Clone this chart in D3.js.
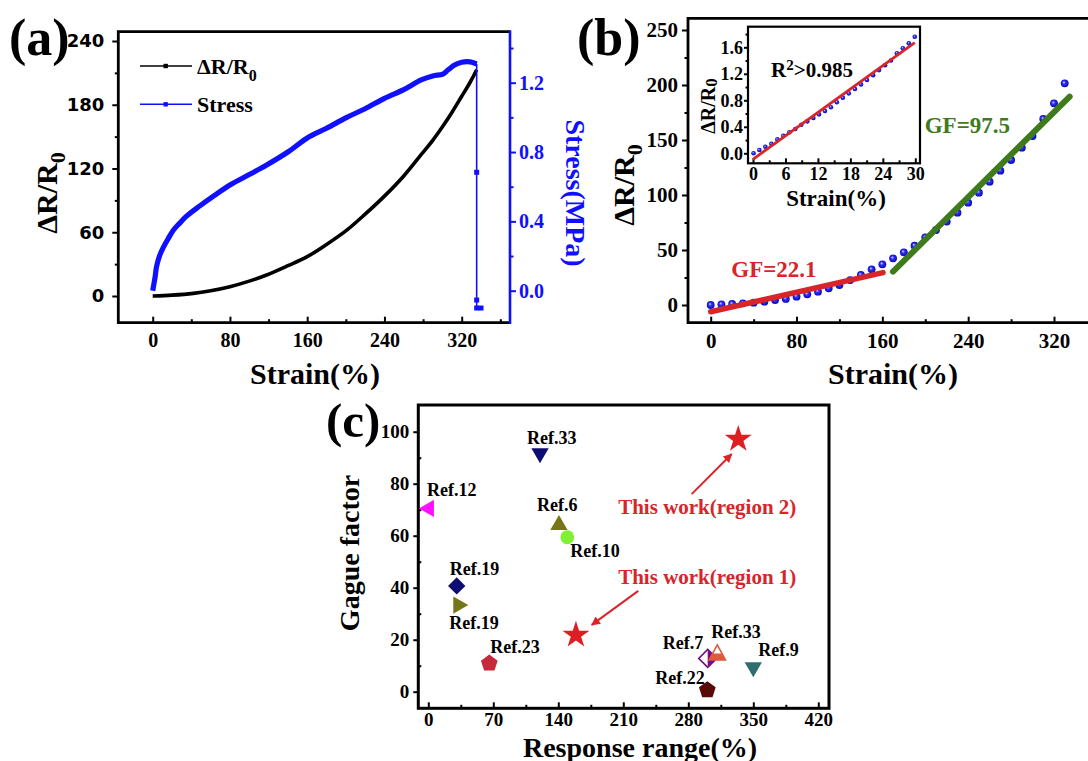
<!DOCTYPE html>
<html>
<head>
<meta charset="utf-8">
<script src="https://cdn.jsdelivr.net/npm/d3@7/dist/d3.min.js"></script>
<style>
body { margin: 0; background: #fff; }
</style>
</head>
<body>
<svg id="fig"></svg>
<script>
"use strict";

// ---- panel (a): resistance change and stress vs strain
var strainR = [0, 20, 42, 60, 80, 100, 118, 140, 160, 180, 201, 220, 240, 260, 278, 290, 300.6, 310, 320, 328, 335.5];
var resistR = [0, 0.8, 2.5, 5, 8.8, 14, 19.8, 28.5, 37, 48.5, 62, 77, 94, 113, 133, 146.5, 160, 173, 188, 200, 213];

var strainS = [0, 2.5, 4, 7, 11, 16, 21.5, 28, 35, 49, 64, 80, 100, 118, 140, 159.7, 180, 201, 220, 240, 260, 278, 290, 300.6, 305.7, 312.6, 320, 328.6, 335.5];
var stressS = [0, 0.08, 0.14, 0.2, 0.25, 0.3, 0.35, 0.39, 0.43, 0.49, 0.55, 0.61, 0.67, 0.725, 0.8, 0.88, 0.937, 1.0, 1.05, 1.11, 1.16, 1.216, 1.239, 1.25, 1.273, 1.302, 1.318, 1.32, 1.308];
// fracture: stress drops
var breakStrain = [335.5, 335.5, 335.5, 335.5, 340];
var breakStress = [1.308, 0.683, -0.054, -0.10, -0.10];

var ticksStrainA = [0, 80, 160, 240, 320];
var ticksResistA = [0, 60, 120, 180, 240];
var ticksStressA = [0, 0.4, 0.8, 1.2];

// ---- panel (b): sensing curve with two linear regions
var strainB = [0, 10, 20, 30, 40, 50, 60, 70, 80, 90, 100, 110, 120, 130, 140, 150, 160, 170, 180, 190, 200, 210, 220, 230, 240, 250, 260, 270, 280, 290, 300, 310, 320, 330];
var resistB = [0, 0.6, 0.9, 1.5, 2.1, 3.0, 4.5, 5.5, 7.6, 9.7, 12.1, 15.2, 18.2, 22.7, 27.3, 32.4, 37.0, 42.4, 47.9, 53.9, 61.5, 68.2, 75.8, 83.9, 93.0, 102.1, 112.1, 122.1, 131.8, 143.0, 153.6, 169.1, 183.3, 201.5];
var fit1 = [[0, -6.1], [160.6, 29.4]];
var fit2 = [[169.9, 30.3], [334.6, 189.4]];
var ticksStrainB = [0, 80, 160, 240, 320];
var ticksResistB = [0, 50, 100, 150, 200, 250];

// inset: low strain region
var strainI = [0.1, 1.17, 2.28, 3.39, 4.5, 5.61, 6.72, 7.82, 8.93, 10.04, 11.15, 12.2, 13.3, 14.4, 15.5, 16.6, 17.7, 18.85, 19.96, 21.07, 22.2, 23.3, 24.4, 25.5, 26.6, 27.7, 28.8, 29.9];
var resistI = [0.0, 0.05, 0.1, 0.145, 0.21, 0.265, 0.317, 0.367, 0.43, 0.482, 0.533, 0.588, 0.638, 0.694, 0.77, 0.84, 0.905, 0.97, 1.04, 1.106, 1.18, 1.256, 1.33, 1.40, 1.51, 1.585, 1.66, 1.76];
var fitI = [[0, -0.09], [29.9, 1.67]];
var ticksStrainI = [0, 6, 12, 18, 24, 30];
var ticksResistI = [0, 0.4, 0.8, 1.2, 1.6];

// ---- panel (c): comparison with other work
var refLabels = ['Ref.33', 'Ref.12', 'Ref.6', 'Ref.10', 'Ref.19', 'Ref.19', 'Ref.23', 'Ref.7', 'Ref.33', 'Ref.9', 'Ref.22'];
var refRange = [120.3, 0.7, 140.7, 149.7, 30.6, 32.3, 65.7, 300.9, 311.2, 350, 300.5];
var refGF = [91.7, 70.5, 64.1, 59.4, 40.7, 33.3, 10.9, 12.8, 14.7, 9.4, 0.65];
var workLabels = ['This work(region 1)', 'This work(region 2)'];
var workRange = [159, 333.8];
var workGF = [21.8, 97.1];
var ticksRangeC = [0, 70, 140, 210, 280, 350, 420];
var ticksGFC = [0, 20, 40, 60, 80, 100];

// ---- style
var SERIF = '"Liberation Serif", "Times New Roman", serif';
var SANS = '"DejaVu Sans", Verdana, sans-serif';
var BLUE = '#1010ff';
var RED = '#d8252a';
var GREEN = '#3f7a1c';

var svg = d3.select('#fig').attr('width', 1088).attr('height', 761);

var defs = svg.append('defs');
var grad = defs.append('radialGradient').attr('id', 'ball')
    .attr('cx', '50%').attr('cy', '50%').attr('r', '55%').attr('fx', '38%').attr('fy', '35%');
grad.append('stop').attr('offset', '0%').attr('stop-color', '#e4e6ff');
grad.append('stop').attr('offset', '35%').attr('stop-color', '#3434ff');
grad.append('stop').attr('offset', '100%').attr('stop-color', '#0000a8');
defs.append('marker').attr('id', 'arrow')
    .attr('viewBox', '0 0 10 10').attr('refX', 9).attr('refY', 5)
    .attr('markerWidth', 5).attr('markerHeight', 4.5).attr('orient', 'auto')
    .append('path').attr('d', 'M0,0L10,5L0,10z').attr('fill', RED);

function styleAxis(g, o) {
    g.select('.domain').remove();
    g.selectAll('line').attr('stroke', o.color || '#000').attr('stroke-width', o.tw || 2);
    g.selectAll('text')
        .attr('font-family', o.family || SERIF)
        .attr('font-size', o.size || 20)
        .attr('font-weight', 'bold')
        .attr('fill', o.color || '#000');
}

function label(g, x, y, rot, size, parts, color) {
    var t = g.append('text')
        .attr('transform', `translate(${x},${y}) rotate(${rot})`)
        .attr('text-anchor', 'middle')
        .attr('font-family', SERIF).attr('font-weight', 'bold')
        .attr('font-size', size).attr('fill', color || '#000');
    parts.forEach(p => {
        t.append('tspan').text(p.t)
            .attr('font-size', p.s || size)
            .attr('dy', p.dy || 0);
    });
    return t;
}

// =================== (a)
var fa = {l: 118.3, r: 510, t: 31.7, b: 322.7};
var xA = d3.scaleLinear().domain([0, 320]).range([152.7, 461.7]);
var yA = d3.scaleLinear().domain([0, 240]).range([296, 41]);
var yA2 = d3.scaleLinear().domain([0, 1.2]).range([290.7, 82.7]);

var ga = svg.append('g').attr('class', 'panel-a');

ga.append('g').attr('transform', `translate(0,${fa.b})`)
    .call(d3.axisBottom(xA).tickValues(ticksStrainA).tickSize(-6).tickPadding(10))
    .call(styleAxis, {size: 20});
ga.append('g').attr('transform', `translate(0,${fa.b})`)
    .call(d3.axisBottom(xA).tickValues([40, 120, 200, 280, 360]).tickSize(-3.5).tickFormat(''))
    .call(styleAxis, {});
ga.append('g').attr('transform', `translate(${fa.l},0)`)
    .call(d3.axisLeft(yA).tickValues(ticksResistA).tickSize(6).tickPadding(8))
    .call(styleAxis, {size: 18, family: SANS});
ga.append('g').attr('transform', `translate(${fa.l},0)`)
    .call(d3.axisLeft(yA).tickValues([30, 90, 150, 210]).tickSize(3.5).tickFormat(''))
    .call(styleAxis, {});
ga.append('g').attr('transform', `translate(${fa.r},0)`)
    .call(d3.axisRight(yA2).tickValues(ticksStressA).tickSize(6).tickPadding(3).tickFormat(d3.format('.1f')))
    .call(styleAxis, {size: 20, color: BLUE});
ga.append('g').attr('transform', `translate(${fa.r},0)`)
    .call(d3.axisRight(yA2).tickValues([0.2, 0.6, 1.0, 1.4]).tickSize(3.5).tickFormat(''))
    .call(styleAxis, {color: BLUE});

ga.append('path')
    .attr('d', `M${fa.r},${fa.t}H${fa.l}V${fa.b}H${fa.r}`)
    .attr('fill', 'none').attr('stroke', '#000').attr('stroke-width', 2.8);
ga.append('line')
    .attr('x1', fa.r).attr('x2', fa.r).attr('y1', fa.t - 1.4).attr('y2', fa.b + 1.4)
    .attr('stroke', BLUE).attr('stroke-width', 2.6);

var lineR = d3.line().x(d => xA(d[0])).y(d => yA(d[1])).curve(d3.curveCatmullRom.alpha(0.5));
ga.append('path')
    .attr('d', lineR(d3.zip(strainR, resistR)))
    .attr('fill', 'none').attr('stroke', '#000').attr('stroke-width', 3.6);

var lineS = d3.line().x(d => xA(d[0])).y(d => yA2(d[1])).curve(d3.curveCatmullRom.alpha(0.5));
ga.append('path')
    .attr('d', lineS(d3.zip(strainS, stressS)))
    .attr('fill', 'none').attr('stroke', BLUE).attr('stroke-width', 5.2).attr('stroke-linejoin', 'round');
var breakPts = d3.zip(breakStrain, breakStress);
ga.append('path')
    .attr('d', d3.line().x(d => xA(d[0])).y(d => yA2(d[1]))(breakPts))
    .attr('fill', 'none').attr('stroke', BLUE).attr('stroke-width', 1.6);
ga.append('g').selectAll('rect')
    .data(breakPts.slice(1))
    .enter().append('rect')
    .attr('x', d => xA(d[0]) - 2.5).attr('y', d => yA2(d[1]) - 2.5)
    .attr('width', 5).attr('height', 5).attr('fill', BLUE);

// legend
var legend = [
    {color: '#000', y: 66, parts: [{t: 'ΔR/R'}, {t: '0', s: 16, dy: 7}]},
    {color: BLUE, y: 104.3, parts: [{t: 'Stress'}]}
];
legend.forEach(l => {
    ga.append('line').attr('x1', 140).attr('x2', 192).attr('y1', l.y).attr('y2', l.y)
        .attr('stroke', l.color).attr('stroke-width', 1.6);
    ga.append('rect').attr('x', 163.5).attr('y', l.y - 2.2).attr('width', 4.4).attr('height', 4.4)
        .attr('fill', l.color);
    var t = ga.append('text').attr('x', 197).attr('y', l.y + 7.5)
        .attr('font-family', SERIF).attr('font-weight', 'bold').attr('font-size', 22);
    l.parts.forEach(p => t.append('tspan').text(p.t).attr('font-size', p.s || 22).attr('dy', p.dy || 0));
});

label(ga, 57, 193, -90, 30, [{t: 'ΔR/R'}, {t: '0', s: 22, dy: 8}]);
label(ga, 566, 193, 90, 28, [{t: 'Stress(MPa)'}], BLUE);
label(ga, 315, 384, 0, 30, [{t: 'Strain(%)'}]);
ga.append('text').attr('x', 9).attr('y', 55).text('(a)')
    .attr('font-family', SERIF).attr('font-weight', 'bold').attr('font-size', 52);

// =================== (b)
var fb = {l: 688, r: 1100, t: 18.3, b: 322.7};
var xB = d3.scaleLinear().domain([0, 320]).range([710.7, 1054]);
var yB = d3.scaleLinear().domain([0, 250]).range([305, 30]);

var gb = svg.append('g').attr('class', 'panel-b');
gb.append('g').attr('transform', `translate(0,${fb.b})`)
    .call(d3.axisBottom(xB).tickValues(ticksStrainB).tickSize(-6).tickPadding(10))
    .call(styleAxis, {size: 21});
gb.append('g').attr('transform', `translate(0,${fb.b})`)
    .call(d3.axisBottom(xB).tickValues([40, 120, 200, 280]).tickSize(-3.5).tickFormat(''))
    .call(styleAxis, {});
gb.append('g').attr('transform', `translate(${fb.l},0)`)
    .call(d3.axisLeft(yB).tickValues(ticksResistB).tickSize(6).tickPadding(4))
    .call(styleAxis, {size: 21});
gb.append('g').attr('transform', `translate(${fb.l},0)`)
    .call(d3.axisLeft(yB).tickValues([25, 75, 125, 175, 225]).tickSize(3.5).tickFormat(''))
    .call(styleAxis, {});
gb.append('path')
    .attr('d', `M${fb.r},${fb.t}H${fb.l}V${fb.b}H${fb.r}`)
    .attr('fill', 'none').attr('stroke', '#000').attr('stroke-width', 2.8);

gb.append('g').selectAll('circle')
    .data(d3.zip(strainB, resistB))
    .enter().append('circle')
    .attr('cx', d => xB(d[0])).attr('cy', d => yB(d[1])).attr('r', 3.9)
    .attr('fill', 'url(#ball)');

var lineB = d3.line().x(d => xB(d[0])).y(d => yB(d[1]));
gb.append('path').attr('d', lineB(fit1))
    .attr('stroke', RED).attr('stroke-width', 5.5).attr('stroke-linecap', 'round').attr('fill', 'none');
gb.append('path').attr('d', lineB(fit2))
    .attr('stroke', GREEN).attr('stroke-width', 6).attr('stroke-linecap', 'round').attr('fill', 'none');

gb.append('text').attr('x', xB(19.2)).attr('y', yB(25.2)).text('GF=22.1')
    .attr('font-family', SERIF).attr('font-weight', 'bold').attr('font-size', 23).attr('fill', RED);
gb.append('text').attr('x', xB(199.5)).attr('y', yB(156.1)).text('GF=97.5')
    .attr('font-family', SERIF).attr('font-weight', 'bold').attr('font-size', 23).attr('fill', GREEN);

label(gb, 634, 185, -90, 30, [{t: 'ΔR/R'}, {t: '0', s: 22, dy: 8}]);
label(gb, 893, 384, 0, 30, [{t: 'Strain(%)'}]);
gb.append('text').attr('x', 577).attr('y', 55).text('(b)')
    .attr('font-family', SERIF).attr('font-weight', 'bold').attr('font-size', 52);

// inset
var fi = {l: 748, r: 920, t: 26.7, b: 163.3};
var xI = d3.scaleLinear().domain([0, 30]).range([753, 915.3]);
var yI = d3.scaleLinear().domain([0, 1.6]).range([153.3, 47.3]);
var gi = gb.append('g').attr('class', 'inset');
gi.append('rect').attr('x', fi.l).attr('y', fi.t).attr('width', fi.r - fi.l).attr('height', fi.b - fi.t)
    .attr('fill', '#fff');
gi.append('g').attr('transform', `translate(0,${fi.b})`)
    .call(d3.axisBottom(xI).tickValues(ticksStrainI).tickSize(-5).tickPadding(4))
    .call(styleAxis, {size: 18});
gi.append('g').attr('transform', `translate(0,${fi.b})`)
    .call(d3.axisBottom(xI).tickValues([3, 9, 15, 21, 27]).tickSize(-3).tickFormat(''))
    .call(styleAxis, {});
gi.append('g').attr('transform', `translate(${fi.l},0)`)
    .call(d3.axisLeft(yI).tickValues(ticksResistI).tickSize(4).tickPadding(1).tickFormat(d3.format('.1f')))
    .call(styleAxis, {size: 18});
gi.append('g').attr('transform', `translate(${fi.l},0)`)
    .call(d3.axisLeft(yI).tickValues([0.2, 0.6, 1.0, 1.4, 1.8]).tickSize(2.5).tickFormat(''))
    .call(styleAxis, {});
gi.append('rect').attr('x', fi.l).attr('y', fi.t).attr('width', fi.r - fi.l).attr('height', fi.b - fi.t)
    .attr('fill', 'none').attr('stroke', '#000').attr('stroke-width', 2.2);

gi.append('g').selectAll('circle')
    .data(d3.zip(strainI, resistI))
    .enter().append('circle')
    .attr('cx', d => xI(d[0])).attr('cy', d => yI(d[1])).attr('r', 2.3)
    .attr('fill', 'url(#ball)');
gi.append('path')
    .attr('d', d3.line().x(d => xI(d[0])).y(d => yI(d[1]))(fitI))
    .attr('stroke', RED).attr('stroke-width', 2.8).attr('fill', 'none');

var r2 = gi.append('text').attr('x', 771).attr('y', 77)
    .attr('font-family', SERIF).attr('font-weight', 'bold').attr('font-size', 21);
r2.append('tspan').text('R');
r2.append('tspan').text('2').attr('font-size', 15).attr('dy', -7);
r2.append('tspan').text('>0.985').attr('dy', 7);

label(gi, 715, 106, -90, 20, [{t: 'ΔR/R'}, {t: '0', s: 17, dy: 2}]);
label(gi, 836, 206, 0, 23, [{t: 'Strain(%)'}]);

// =================== (c)
var fc = {l: 418.3, r: 829, t: 405, b: 708.3};
var xC = d3.scaleLinear().domain([0, 420]).range([428.3, 818.3]);
var yC = d3.scaleLinear().domain([0, 100]).range([691.7, 431.7]);

var gc = svg.append('g').attr('class', 'panel-c');
gc.append('g').attr('transform', `translate(0,${fc.b})`)
    .call(d3.axisBottom(xC).tickValues(ticksRangeC).tickSize(-6).tickPadding(4))
    .call(styleAxis, {size: 19});
gc.append('g').attr('transform', `translate(0,${fc.b})`)
    .call(d3.axisBottom(xC).tickValues([35, 105, 175, 245, 315, 385]).tickSize(-3.5).tickFormat(''))
    .call(styleAxis, {});
gc.append('g').attr('transform', `translate(${fc.l},0)`)
    .call(d3.axisLeft(yC).tickValues(ticksGFC).tickSize(5).tickPadding(4))
    .call(styleAxis, {size: 19});
gc.append('g').attr('transform', `translate(${fc.l},0)`)
    .call(d3.axisLeft(yC).tickValues([10, 30, 50, 70, 90]).tickSize(-3).tickFormat(''))
    .call(styleAxis, {});
gc.append('rect').attr('x', fc.l).attr('y', fc.t).attr('width', fc.r - fc.l).attr('height', fc.b - fc.t)
    .attr('fill', 'none').attr('stroke', '#000').attr('stroke-width', 3);

// marker styles for each reference, in refLabels order
var refShape = ['triDown', 'triLeft', 'triUp', 'circle', 'diamond', 'triRight', 'pentagon', 'halfDiamond', 'halfTri', 'triDown', 'pentagon'];
var refColor = ['#0d0d72', '#ff10ff', '#75751a', '#80f034', '#0d0d72', '#75751a', '#c42a3a', '#7a0a86', '#dd5a3c', '#2f6e6e', '#5a0909'];
// label anchor offsets from the marker (px)
var refLabelDx = [-13, -2, -22, 3, -7, -9, 1, -45, -6, 5, -52];
var refLabelDy = [-9.5, -12.5, -14.5, 20, -11, 24, -10, -9, -15, -11, -6];

function pentagon(r) {
    return d3.range(5).map(k => {
        var a = -Math.PI / 2 + k * 2 * Math.PI / 5;
        return [r * Math.cos(a), r * Math.sin(a)];
    });
}

function drawMarker(g, shape, color) {
    var tri = d3.symbol(d3.symbolTriangle, 130)();
    if (shape === 'triUp') g.append('path').attr('d', tri).attr('fill', color);
    if (shape === 'triDown') g.append('path').attr('d', tri).attr('transform', 'rotate(180)').attr('fill', color);
    if (shape === 'triLeft') g.append('path').attr('d', tri).attr('transform', 'rotate(-90)').attr('fill', color);
    if (shape === 'triRight') g.append('path').attr('d', tri).attr('transform', 'rotate(90)').attr('fill', color);
    if (shape === 'circle') g.append('path').attr('d', d3.symbol(d3.symbolCircle, 150)()).attr('fill', color);
    if (shape === 'diamond') g.append('path').attr('d', d3.symbol(d3.symbolSquare, 150)())
        .attr('transform', 'rotate(45)').attr('fill', color);
    if (shape === 'pentagon') g.append('polygon').attr('points', pentagon(8.8).join(' ')).attr('fill', color);
    if (shape === 'halfDiamond') {
        g.append('polygon').attr('points', '0,-9 9,0 0,9 -9,0').attr('fill', '#fff')
            .attr('stroke', color).attr('stroke-width', 1.6);
        g.append('polygon').attr('points', '0,-9 9,0 0,9').attr('fill', color);
    }
    if (shape === 'halfTri') {
        g.append('polygon').attr('points', '-4.5,0 4.5,0 8.2,6.5 -8.2,6.5').attr('fill', color);
        g.append('polygon').attr('points', '0,-8.5 8.2,6.5 -8.2,6.5').attr('fill', 'none')
            .attr('stroke', color).attr('stroke-width', 1.6);
    }
}

refLabels.forEach((lab, i) => {
    var g = gc.append('g').attr('transform', `translate(${xC(refRange[i])},${yC(refGF[i])})`);
    drawMarker(g, refShape[i], refColor[i]);
});
refLabels.forEach((lab, i) => {
    gc.append('text')
        .attr('x', xC(refRange[i]) + refLabelDx[i])
        .attr('y', yC(refGF[i]) + refLabelDy[i])
        .text(lab)
        .attr('font-family', SERIF).attr('font-weight', 'bold').attr('font-size', 18);
});

gc.append('g').selectAll('path')
    .data(d3.zip(workRange, workGF))
    .enter().append('path')
    .attr('d', d3.symbol(d3.symbolStar, 225)())
    .attr('transform', d => `translate(${xC(d[0])},${yC(d[1])})`)
    .attr('fill', '#dd1f22');

// annotations: text anchors and arrows, in data units
var noteX = [204.5, 204.5];
var noteY = [41.3, 68.3];
var arrowFrom = [[226.1, 38.8], [283.6, 76]];
var arrowTo = [[176, 25.7], [326.7, 91.4]];
workLabels.forEach((lab, i) => {
    gc.append('text').attr('x', xC(noteX[i])).attr('y', yC(noteY[i])).text(lab)
        .attr('font-family', SERIF).attr('font-weight', 'bold').attr('font-size', 21).attr('fill', RED);
    gc.append('line')
        .attr('x1', xC(arrowFrom[i][0])).attr('y1', yC(arrowFrom[i][1]))
        .attr('x2', xC(arrowTo[i][0])).attr('y2', yC(arrowTo[i][1]))
        .attr('stroke', RED).attr('stroke-width', 2).attr('marker-end', 'url(#arrow)');
});

label(gc, 359, 553, -90, 28, [{t: 'Gague factor'}]);
label(gc, 640, 757, 0, 28, [{t: 'Response range(%)'}]);
gc.append('text').attr('x', 326).attr('y', 437).text('(c)')
    .attr('font-family', SERIF).attr('font-weight', 'bold').attr('font-size', 49);
</script>
</body>
</html>
